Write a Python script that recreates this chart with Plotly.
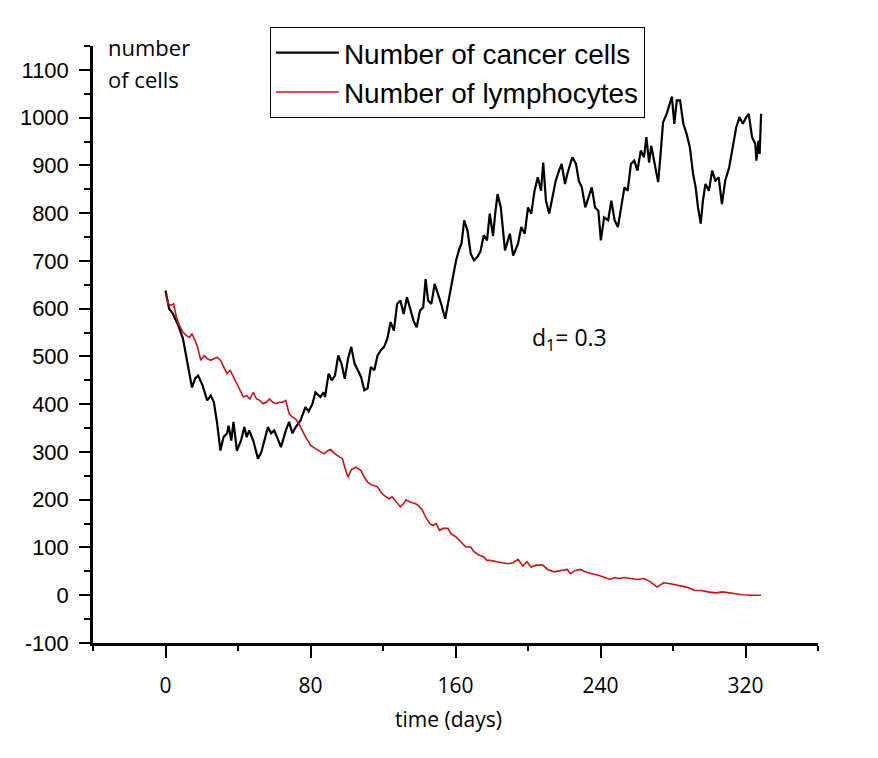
import plotly.graph_objects as go

# cancer cells (black)
cancer_t = [0, 2, 4, 7, 9.6, 11.4, 13, 14.6, 16.4, 18, 20.4, 23, 25, 26.7, 28.5, 30.3, 32, 34, 34.8, 36.3,
            37.5, 39.4, 41.7, 43.5, 44.8, 46.2, 48.4, 51, 52.9, 54.7, 56.5, 58.3, 60, 61.9, 63.7, 66.4, 68.2,
            70, 71.8, 74.5, 77.2, 79, 81, 82.7, 85.4, 87.2, 88, 90, 91.7, 93.5, 95.3, 97.1, 98.9, 100.7, 102.5,
            104.3, 106.1, 107.9, 109.7, 111.5, 113.3, 115.2, 117, 118.8, 120.6, 122.4, 124.2, 126, 127.8, 129.6,
            131.4, 133.2, 135, 136.8, 138.6, 140.4, 142.2, 143.5, 144.9, 146.7, 148.5, 150.3, 152.1, 154.3,
            156.1, 158.5, 160.3, 162.1, 163.3, 164.8, 166.6, 168.4, 170.2, 172, 173.8, 175.6, 177.4, 178.9,
            180.7, 181.9, 183.2, 185, 187.3, 190, 191.8, 194.5, 196.3, 198.2, 200, 201.8, 203.6, 205.4, 207.2,
            208.4, 209.9, 211.7, 213.5, 215.3, 217.1, 218.6, 220.4, 221.7, 224.4, 226.5, 228, 229.7, 231.6,
            233.4, 235.2, 237, 238.8, 240.2, 242, 244.2, 246, 247.8, 249.6, 251.4, 253.2, 255, 256.8, 258.6,
            260.4, 262.2, 264, 265.3, 266.8, 268, 269.8, 271.8, 273, 274.5, 276.5, 277.6, 279.4, 280.7, 282.1,
            283.9, 285.7, 287.5, 289.3, 291.1, 292.5, 293.8, 295.3, 296.5, 297.9, 299.8, 301.6, 303.4, 305.2,
            307, 308.8, 311, 312.8, 314.9, 316.7, 318.5, 320.4, 321.8, 323.6, 325.4, 326, 327.2, 327.8, 328.6]
cancer_n = [638, 600, 590, 565, 538, 498, 470, 435, 454, 460, 440, 408, 418, 404, 360, 303, 331, 339, 355, 324,
            363, 303, 324, 352, 331, 345, 324, 286, 300, 324, 352, 339, 345, 328, 310, 345, 363,
            339, 352, 366, 394, 385, 400, 425, 415, 425, 415, 464, 450, 460, 502, 485, 453, 495, 520,
            485, 471, 457, 429, 433, 478, 471, 502, 513, 520, 537, 572, 554, 610, 617,
            589, 624, 600, 575, 561, 596, 603, 662, 617, 610, 652, 631, 610, 579,
            617, 666, 701, 725, 736, 785, 764, 715, 701, 708, 720, 754, 743, 799,
            752, 799, 840, 812, 722, 757, 711, 736, 771, 757, 812, 799, 847, 875, 847,
            906, 826, 799, 833, 868, 889, 903, 861, 882, 917, 903, 868, 854, 812,
            833, 854, 812, 805, 743, 791, 785, 826, 785, 771, 812, 854, 847, 903, 910,
            889, 931, 917, 959, 906, 941, 903, 865, 917, 990, 1008, 1022, 1044, 987, 1036,
            1036, 987, 966, 938, 882, 854, 812, 778, 826, 861, 847, 889, 868, 875,
            819, 868, 896, 931, 980, 1001, 987, 1001, 1008, 959, 945, 910, 952, 924, 1008]

# lymphocytes (red)
lymph_t = [0, 1.5, 3.2, 4.5, 6, 7.7, 9.6, 11.4, 13.2, 14.6, 15.9, 17.7, 19.5, 21.3, 23.1, 24.9, 26.7, 28.5,
           30.3, 32.1, 33.9, 35.7, 37.5, 39.4, 41.1, 43, 44.8, 46.6, 48.4, 50.2, 52, 53.8, 55.6, 57.4, 59.2,
           61, 62.8, 64.6, 66.4, 68.2, 70, 71.8, 73.6, 75.4, 77.3, 79, 80, 82.7, 85.4, 87.5, 89.3, 91.1, 93.5,
           96.2, 97.6, 98.9, 100.7, 102.5, 105.2, 107.9, 109.7, 111.5, 114.2, 117, 118.8, 120.6, 123.3, 125.1,
           127.2, 129.6, 131.4, 132.6, 135, 137.7, 139.5, 141.7, 143.5, 145.8, 147.6, 149.4, 151.2, 153.1,
           155.8, 157.5, 160.3, 163, 165.7, 168.4, 170.2, 172.9, 175.6, 177.4, 179.2, 182.8, 186.4, 189.1,
           191.8, 194.5, 197.2, 199.4, 201.8, 204.5, 208.1, 210.8, 214.4, 218, 221.6, 223.4, 226.1, 228.9,
           231.6, 235.2, 238.8, 242.4, 245.1, 247.8, 250.5, 253.2, 256.8, 260.4, 264, 267.6, 271.2, 274.8,
           278.5, 283, 287.5, 292, 295.6, 299.2, 303.7, 307.4, 311, 313.7, 318.2, 323.6, 328.6]
lymph_n = [631, 610, 607, 610, 582, 565, 551, 544, 540, 547, 537, 520, 492, 502, 495, 492, 495, 498,
           492, 478, 464, 471, 457, 440, 429, 415, 418, 411, 425, 411, 408, 401, 404, 411, 404,
           401, 404, 404, 408, 380, 373, 369, 359, 345, 331, 321, 314, 307, 300, 296, 302, 305, 296,
           289, 286, 268, 247, 263, 268, 261, 247, 237, 230, 227, 216, 209, 202, 206,
           195, 185, 192, 200, 195, 192, 188, 178, 164, 150, 146, 150, 136, 140,
           140, 129, 122, 112, 101, 101, 91, 84, 80, 73, 73, 70, 68, 66,
           68, 75, 61, 70, 59, 63, 63, 54, 49, 51, 54, 45, 52, 54,
           49, 45, 42, 37, 33, 37, 35, 37, 35, 33, 35, 28, 17, 26,
           24, 21, 17, 10, 10, 7, 5, 7, 5, 2, 1, 0, 0]

y_ticks = list(range(-100, 1101, 100))
y_ticklabels = [str(v) for v in y_ticks]  # plain hyphen for -100

fig = go.Figure()
fig.add_trace(go.Scatter(x=cancer_t, y=cancer_n, mode='lines', name='Number of cancer cells',
                         line=dict(color='black', width=2.2)))
fig.add_trace(go.Scatter(x=lymph_t, y=lymph_n, mode='lines', name='Number of lymphocytes',
                         line=dict(color='#cc1414', width=1.6)))

# page body has an 8px margin, so the figure is 8px smaller than the window
fig.update_layout(
    width=870, height=750,
    margin=dict(l=77, r=60, t=38, b=115),
    plot_bgcolor='white', paper_bgcolor='white',
    showlegend=True,
    legend=dict(x=0.244, y=1.032, xanchor='left', yanchor='top',
                bordercolor='black', borderwidth=1, bgcolor='white',
                font=dict(family='Liberation Sans, Arial', size=28, color='black'),
                itemwidth=63, tracegroupgap=0),
    annotations=[
        dict(text='number', xref='paper', yref='paper', x=0.0175, y=0.999,
             xanchor='left', yanchor='middle', showarrow=False,
             font=dict(family='Open Sans', size=22, color='black')),
        dict(text='of cells', xref='paper', yref='paper', x=0.0175, y=0.945,
             xanchor='left', yanchor='middle', showarrow=False,
             font=dict(family='Open Sans', size=22, color='black')),
        dict(text='d<sub>1</sub>= 0.3', xref='x', yref='y', x=223, y=537,
             xanchor='center', yanchor='middle', showarrow=False,
             font=dict(family='Open Sans', size=23, color='black')),
        dict(text='time (days)', xref='x', yref='paper', x=156, y=-0.127,
             xanchor='center', yanchor='middle', showarrow=False,
             font=dict(family='Open Sans', size=21, color='black')),
    ],
)

fig.update_xaxes(range=[-40, 360], tick0=0, dtick=80, showgrid=False, zeroline=False,
                 showline=True, linecolor='black', linewidth=2.5,
                 ticks='outside', ticklen=12, tickwidth=2, tickcolor='black',
                 ticklabelstandoff=10,
                 tickfont=dict(family='Open Sans', size=21, color='black'),
                 minor=dict(dtick=40, ticks='outside', ticklen=5, tickwidth=2, tickcolor='black'))
fig.update_yaxes(range=[-100, 1150], tickmode='array', tickvals=y_ticks, ticktext=y_ticklabels,
                 showgrid=False, zeroline=False,
                 showline=True, linecolor='black', linewidth=2.5,
                 ticks='outside', ticklen=11, tickwidth=2, tickcolor='black',
                 ticklabelstandoff=6,
                 tickfont=dict(family='Liberation Sans, Arial', size=22, color='black'),
                 minor=dict(dtick=50, tick0=0, ticks='outside', ticklen=6, tickwidth=2, tickcolor='black'))

fig.write_html("out.html")
